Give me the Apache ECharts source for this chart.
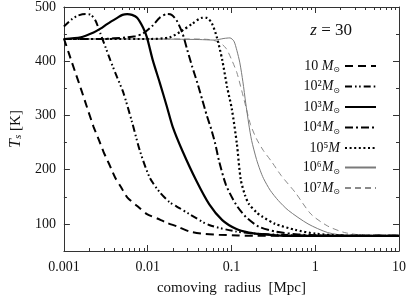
<!DOCTYPE html>
<html><head><meta charset="utf-8">
<script src="https://cdn.jsdelivr.net/npm/echarts@6/dist/echarts.min.js"></script>
<style>html,body{margin:0;padding:0;background:#fff}#c{width:409px;height:301px}</style>
</head><body><div id="c"></div>
<script>
// ---- data (radius in Mpc, spin temperature in K) ----
const seriesNames = ['10 M⊙','10²M⊙','10³M⊙','10⁴M⊙','10⁵M','10⁶M⊙','10⁷M⊙'];
const r1 = [0.001,0.00115,0.00135,0.00159,0.00187,0.00226,0.0026,0.00297,0.0035,0.0041,0.0048,0.0057,0.0075,0.0098,0.013,0.017,0.0227,0.0315,0.045,0.071,0.12,0.2,0.5,10];
const T1 = [442,414,382,350,317,279,256,233,209,185,168,149,133,118,110,102,95,86,82,80,78.5,78,78,78];
const r2 = [0.001,0.00121,0.00146,0.00182,0.00208,0.00238,0.00273,0.0031,0.00358,0.0043,0.0051,0.0065,0.0081,0.0106,0.014,0.0183,0.024,0.0315,0.054,0.113,0.194,0.363,1.07,10];
const T2 = [464,476,484,487,486,475,451,428,402,371,343,288,234,185,158,140,129,118,98,86,82,80,78,78];
const r3 = [0.001,0.00159,0.00226,0.00273,0.00331,0.00433,0.005,0.00569,0.0065,0.00748,0.0088,0.0098,0.0115,0.0139,0.0169,0.0199,0.0261,0.038,0.0544,0.0777,0.113,0.161,0.23,0.415,10];
const T3 = [441,444,453,460,469,480,485.5,487,485.5,480,462,444,402,361,317,279,234,180,136,107,91,84,81,78,78];
const r4 = [0.001,0.00273,0.00569,0.0071,0.0088,0.0115,0.0139,0.0169,0.0193,0.0222,0.0261,0.0298,0.034,0.039,0.0446,0.051,0.057,0.064,0.0711,0.086,0.113,0.148,0.211,0.333,0.625,1.87,10];
const T4 = [441,441,444,446,451,466,480,487,485.5,475,451,420,390,361,330,299,276,248,216,172,136,113,95,86,80.5,78,78];
const r5 = [0.001,0.0106,0.0183,0.0261,0.034,0.0446,0.051,0.0587,0.067,0.0777,0.0886,0.101,0.116,0.129,0.145,0.161,0.2,0.23,0.333,0.577,1.0,2.43,10];
const T5 = [441,441,444,457,469,480,480,469,444,402,353,312,248,182,153,137,121,114,100,89,82,78,78];
const r6 = [0.001,0.0106,0.0413,0.0622,0.0814,0.096,0.107,0.116,0.126,0.137,0.148,0.161,0.174,0.199,0.22,0.241,0.29,0.363,0.477,0.82,1.41,2.43,10];
const T6 = [441,441,440,439,442,443,437,420,397,362,323,284,254,219,199,184,162,143,125,100,84,78.6,78];
const r7 = [0.001,0.0315,0.0544,0.0711,0.086,0.101,0.116,0.129,0.148,0.169,0.199,0.241,0.298,0.393,0.577,0.89,1.41,2.25,4.2,10];
const T7 = [441,441,440,435,424,402,379,353,317,283,257,235,216,189,158,118,96,84,78.5,78];
const xMajorTicks = [0.001,0.01,0.1,1,10];
const xTickLabels = ['0.001','0.01','0.1','1','10'];
const yMajorTicks = [100,200,300,400,500];
const yMinorTicks = [150,250,350,450];
const xMinorTicks = [];
for (const d of [0.001,0.01,0.1,1]) for (let k=2;k<=9;k++) xMinorTicks.push(+(d*k).toPrecision(3));

const radii = [r1,r2,r3,r4,r5,r6,r7];
const temps = [T1,T2,T3,T4,T5,T6,T7];
const styles = [
  {color:'#000', width:2, type:[8,5]},
  {color:'#000', width:2, type:[7,3,1.6,2.5,1.6,3]},
  {color:'#000', width:2.2, type:'solid'},
  {color:'#000', width:2, type:[8,3,2,3]},
  {color:'#000', width:2.2, type:[2,2.6]},
  {color:'#7a7a7a', width:1, type:'solid'},
  {color:'#8a8a8a', width:1, type:[6,4]}
];
const FONT = 'Liberation Serif';
const chart = echarts.init(document.getElementById('c'), null, {renderer:'canvas'});
const baseX = {type:'log', logBase:10, min:0.001, max:10, gridIndex:0, splitLine:{show:false}, minorTick:{show:false}};
const baseY = {type:'value', min:50, max:500, gridIndex:0, splitLine:{show:false}};
const lineCol = '#333';
function legendRich(name){
  const m = name.match(/^(10[^M]*)(M)(⊙?)$/);
  return '{a|'+m[1]+'}{m|'+m[2]+'}'+(m[3]?'{o|'+m[3]+'}':'');
}
chart.setOption({
  animation:false,
  backgroundColor:'#fff',
  grid:{left:63, right:7, top:6, bottom:47},
  title:{text:'{i|z} = 30', right:52, top:17, textStyle:{fontFamily:FONT, fontSize:17, fontWeight:'normal', color:'#111',
    rich:{i:{fontFamily:FONT, fontStyle:'italic', fontSize:17, color:'#111'}}}},
  legend:{orient:'vertical', right:27, top:54, align:'right', itemWidth:31, itemHeight:14, itemGap:5.5,
    data:seriesNames, itemStyle:{opacity:0},
    formatter: legendRich,
    textStyle:{fontFamily:FONT, fontSize:14, color:'#111', width:46, align:'right',
      rich:{a:{fontFamily:FONT, fontSize:14, color:'#111', lineHeight:16},
            m:{fontFamily:FONT, fontSize:14, fontStyle:'italic', color:'#111', lineHeight:16},
            o:{fontFamily:'DejaVu Sans', fontSize:8, color:'#111', lineHeight:16, verticalAlign:'bottom', padding:[4,0,0,0]}}}},
  xAxis:[
    Object.assign({}, baseX, {position:'bottom',
      name:'comoving  radius  [Mpc]', nameLocation:'middle', nameGap:30,
      nameTextStyle:{fontFamily:FONT, fontSize:15, color:'#111'},
      axisLine:{show:true, lineStyle:{color:lineCol, width:1}},
      axisTick:{show:true, inside:true, length:6, lineStyle:{color:lineCol}},
      axisLabel:{show:true, margin:9, fontFamily:FONT, fontSize:14, color:'#111',
        formatter:v=>xTickLabels[Math.round(Math.log10(v))+3]}}),
    Object.assign({}, baseX, {position:'bottom', axisLine:{show:false},
      axisTick:{show:true, inside:true, length:3, customValues:xMinorTicks, lineStyle:{color:lineCol}},
      axisLabel:{show:false}}),
    Object.assign({}, baseX, {position:'top', axisLine:{show:true, lineStyle:{color:lineCol, width:1}},
      axisTick:{show:true, inside:true, length:6, lineStyle:{color:lineCol}}, axisLabel:{show:false}}),
    Object.assign({}, baseX, {position:'top', axisLine:{show:false},
      axisTick:{show:true, inside:true, length:3, customValues:xMinorTicks, lineStyle:{color:lineCol}},
      axisLabel:{show:false}})
  ],
  yAxis:[
    Object.assign({}, baseY, {position:'left',
      name:'{t|T}{s|s} [K]', nameLocation:'middle', nameGap:35, nameRotate:90,
      nameTextStyle:{fontFamily:FONT, fontSize:15, color:'#111',
        rich:{t:{fontFamily:FONT, fontSize:16, fontStyle:'italic', color:'#111'},
              s:{fontFamily:FONT, fontSize:11, fontStyle:'italic', color:'#111', verticalAlign:'bottom', padding:[5,0,0,0]}}},
      axisLine:{show:true, lineStyle:{color:lineCol, width:1}},
      axisTick:{show:true, inside:true, length:6, customValues:yMajorTicks, lineStyle:{color:lineCol}},
      axisLabel:{show:true, margin:8, customValues:yMajorTicks, fontFamily:FONT, fontSize:14, color:'#111'}}),
    Object.assign({}, baseY, {position:'left', axisLine:{show:false},
      axisTick:{show:true, inside:true, length:3, customValues:yMinorTicks, lineStyle:{color:lineCol}}, axisLabel:{show:false}}),
    Object.assign({}, baseY, {position:'right', axisLine:{show:true, lineStyle:{color:lineCol, width:1}},
      axisTick:{show:true, inside:true, length:6, customValues:yMajorTicks, lineStyle:{color:lineCol}}, axisLabel:{show:false}}),
    Object.assign({}, baseY, {position:'right', axisLine:{show:false},
      axisTick:{show:true, inside:true, length:3, customValues:yMinorTicks, lineStyle:{color:lineCol}}, axisLabel:{show:false}})
  ],
  series: seriesNames.map((n,i)=>({
    name:n, type:'line', xAxisIndex:0, yAxisIndex:0, showSymbol:false, symbol:'none',
    smooth:0.25, z: 10-i,
    lineStyle:styles[i], itemStyle:{color:styles[i].color},
    data: radii[i].map((r,j)=>[r, temps[i][j]])
  }))
});
</script></body></html>
